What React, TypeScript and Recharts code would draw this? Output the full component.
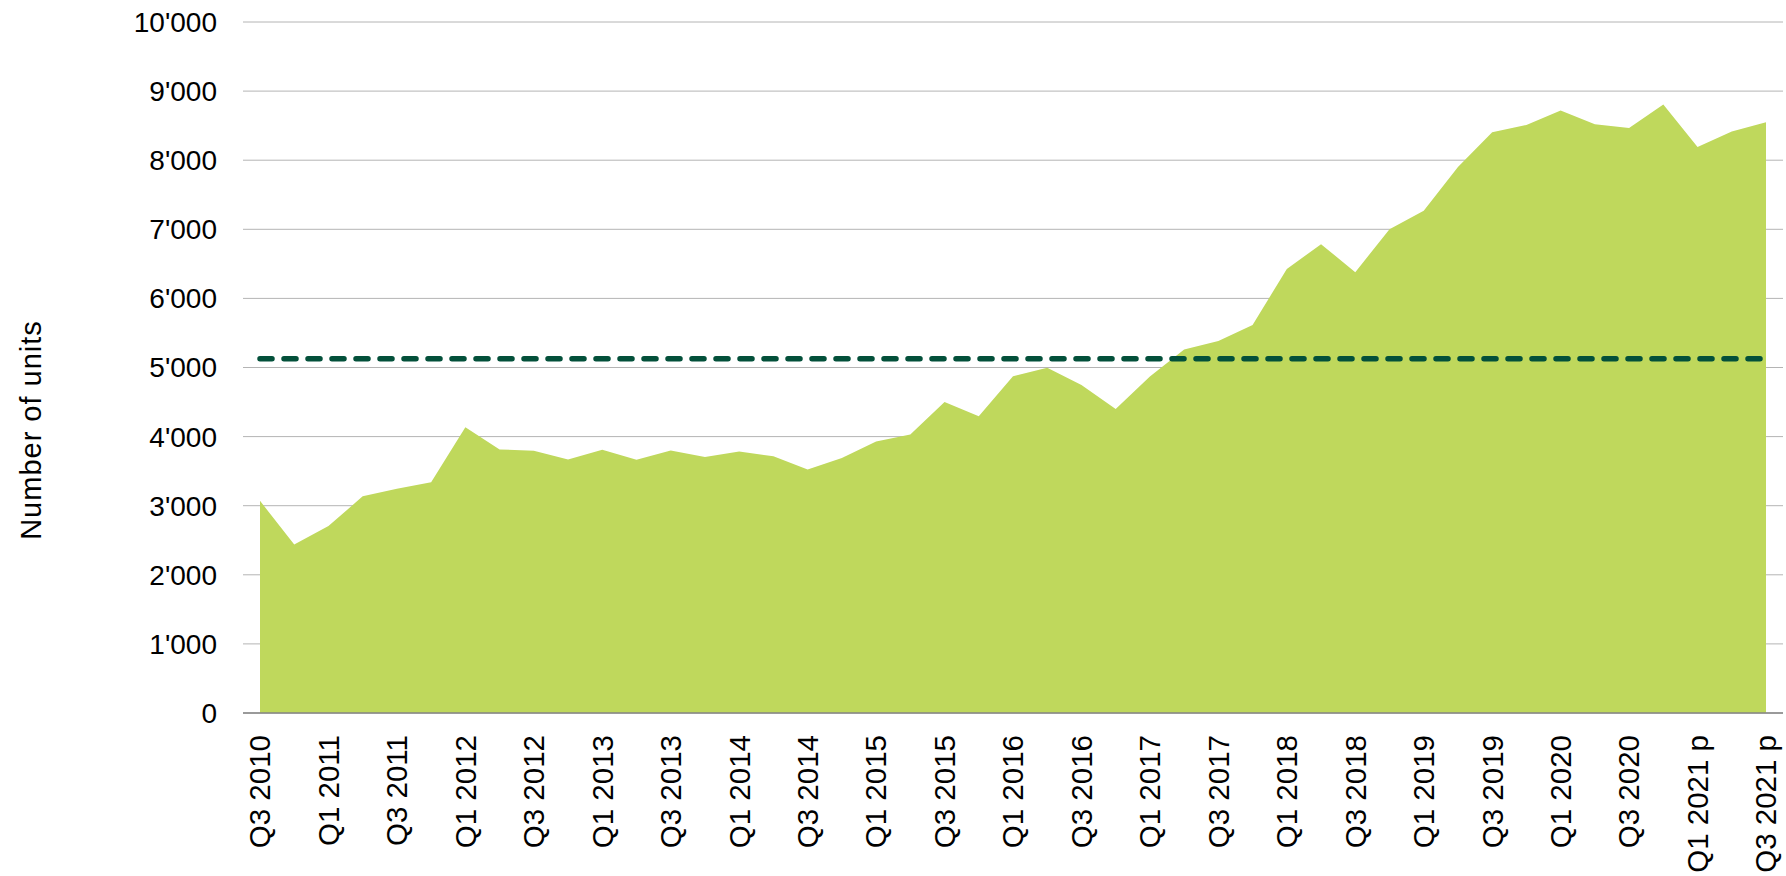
import React from "react";
import { AreaChart, Area, XAxis, YAxis, CartesianGrid, ReferenceLine } from "recharts";

// quarterly completions, 'p' = provisional
const quarters = [
    "Q3 2010", "Q4 2010",
    "Q1 2011", "Q2 2011", "Q3 2011", "Q4 2011",
    "Q1 2012", "Q2 2012", "Q3 2012", "Q4 2012",
    "Q1 2013", "Q2 2013", "Q3 2013", "Q4 2013",
    "Q1 2014", "Q2 2014", "Q3 2014", "Q4 2014",
    "Q1 2015", "Q2 2015", "Q3 2015", "Q4 2015",
    "Q1 2016", "Q2 2016", "Q3 2016", "Q4 2016",
    "Q1 2017", "Q2 2017", "Q3 2017", "Q4 2017",
    "Q1 2018", "Q2 2018", "Q3 2018", "Q4 2018",
    "Q1 2019", "Q2 2019", "Q3 2019", "Q4 2019",
    "Q1 2020", "Q2 2020", "Q3 2020", "Q4 2020",
    "Q1 2021 p", "Q2 2021 p", "Q3 2021 p",
];

const units = [
    3070, 2440,
    2705, 3135, 3245, 3340,
    4135, 3815, 3795, 3670,
    3810, 3665, 3800, 3705,
    3785, 3715, 3525, 3690,
    3930, 4030, 4500, 4295,
    4875, 4995, 4745, 4400,
    4870, 5260, 5385, 5615,
    6425, 6785, 6380, 7000,
    7270, 7900, 8405, 8510,
    8720, 8520, 8465, 8805,
    8190, 8415, 8550,
];

const average = 5125; // long-term average (dashed)
const yTicks = [0, 1000, 2000, 3000, 4000, 5000, 6000, 7000, 8000, 9000, 10000];

const data = quarters.map((quarter, i) => ({ quarter, units: units[i] }));

const FONT = "'Liberation Sans', Arial, sans-serif";

const fmt = (v: number) => String(v).replace(/\B(?=(\d{3})+(?!\d))/g, "'");

const QuarterTick = (props: any) => {
    const { x, y, payload } = props;
    return (
        <g transform={`translate(${x},${y + 22})`}>
            <text textAnchor="end" transform="rotate(-90)" dy="0.35em" fontSize={29.5} fill="#000" fontFamily={FONT}>
                {payload.value}
            </text>
        </g>
    );
};

export default function App() {
    return (
        <div style={{ position: "absolute", left: 0, top: 0, width: 1786, height: 876, background: "#fff" }}>
            <AreaChart width={1786} height={876} data={data} margin={{ top: 22, right: 3, left: 0, bottom: 0 }}>
                <CartesianGrid vertical={false} stroke="#b4b4b4" strokeWidth={1} />
                <XAxis
                    dataKey="quarter"
                    interval={1}
                    height={163}
                    padding={{ left: 17, right: 17 }}
                    tick={<QuarterTick />}
                    tickLine={false}
                    tickSize={0}
                    tickMargin={0}
                    axisLine={{ stroke: "#858585", strokeWidth: 1.5 }}
                />
                <YAxis
                    width={243}
                    domain={[0, 10000]}
                    ticks={yTicks}
                    tickFormatter={fmt}
                    axisLine={false}
                    tickLine={false}
                    tickSize={0}
                    tickMargin={26}
                    tick={{ fill: "#000", fontSize: 28, fontFamily: FONT }}
                />
                <Area
                    type="linear"
                    dataKey="units"
                    stroke="none"
                    fill="#bfd85c"
                    fillOpacity={1}
                    dot={false}
                    activeDot={false}
                    isAnimationActive={false}
                />
                <ReferenceLine
                    segment={[{ x: quarters[0], y: average }, { x: quarters[quarters.length - 1], y: average }]}
                    stroke="#03503a"
                    strokeWidth={5.5}
                    strokeDasharray="12 12"
                    strokeLinecap="round"
                />
            </AreaChart>
            <div
                style={{
                    position: "absolute",
                    left: 31,
                    top: 430,
                    transform: "translate(-50%, -50%) rotate(-90deg)",
                    whiteSpace: "nowrap",
                    fontFamily: FONT,
                    fontSize: 29,
                    letterSpacing: 1,
                    color: "#000",
                }}
            >
                Number of units
            </div>
        </div>
    );
}
